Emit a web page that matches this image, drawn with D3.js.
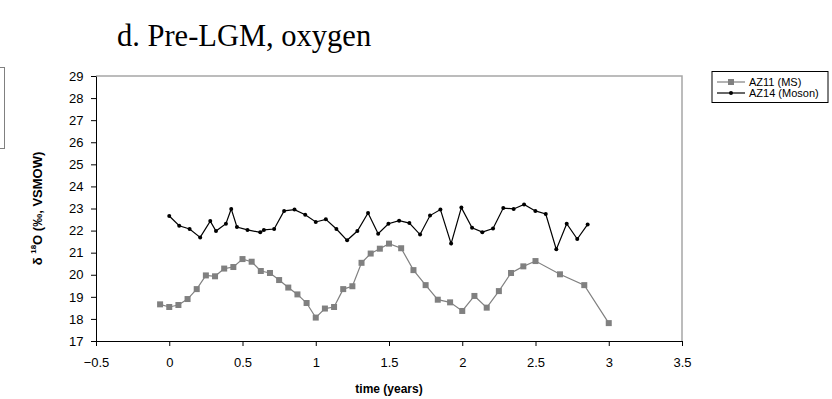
<!DOCTYPE html>
<html><head><meta charset="utf-8">
<script src="https://cdn.jsdelivr.net/npm/d3@7"></script>
<style>
html,body{margin:0;padding:0;background:#fff;}
svg{display:block;}
</style></head>
<body>
<svg id="chart" width="832" height="399"></svg>
<script>
// ---- data ----
const az11Time = [-0.0625,0,0.0625,0.125,0.1875,0.25,0.3125,0.375,0.4375,0.5,0.5625,0.625,0.6875,0.75,0.8125,0.875,0.9375,1.0,1.0625,1.125,1.1875,1.25,1.3125,1.375,1.4375,1.5,1.583,1.667,1.75,1.833,1.917,2.0,2.083,2.167,2.25,2.333,2.417,2.5,2.667,2.833,3.0];
const az11Value = [18.66,18.54,18.63,18.90,19.35,19.97,19.93,20.28,20.35,20.71,20.59,20.17,20.08,19.76,19.42,19.11,18.72,18.06,18.47,18.54,19.35,19.48,20.54,20.96,21.18,21.41,21.20,20.21,19.53,18.87,18.75,18.36,19.04,18.51,19.26,20.08,20.38,20.62,20.02,19.53,17.81];
const az14Time = [0,0.068,0.139,0.211,0.280,0.319,0.387,0.423,0.462,0.534,0.621,0.646,0.716,0.784,0.855,0.928,1.0,1.069,1.141,1.214,1.284,1.357,1.426,1.496,1.569,1.639,1.712,1.780,1.851,1.924,1.994,2.067,2.137,2.210,2.280,2.351,2.422,2.499,2.570,2.642,2.713,2.785,2.856];
const az14Value = [22.66,22.22,22.07,21.69,22.43,21.98,22.31,22.98,22.16,22.03,21.92,22.03,22.07,22.89,22.95,22.72,22.39,22.51,22.07,21.56,21.98,22.80,21.86,22.31,22.45,22.34,21.82,22.68,22.95,21.41,23.04,22.13,21.93,22.09,23.02,22.98,23.18,22.89,22.75,21.15,22.31,21.62,22.28];
const xTicks = [-0.5,0,0.5,1,1.5,2,2.5,3,3.5];
const yTicks = [17,18,19,20,21,22,23,24,25,26,27,28,29];
const seriesNames = ["AZ11 (MS)","AZ14 (Moson)"];
const titleText = "d. Pre-LGM, oxygen";
const xLabel = "time (years)";

// ---- layout ----
const svg = d3.select("#chart");
const L = 96, R = 682, T = 76, B = 341;
const x = d3.scaleLinear().domain([-0.5,3.5]).range([L,R]);
const y = d3.scaleLinear().domain([17,29]).range([B,T]);
const font = "Arial, 'Liberation Sans', sans-serif";

// partial box at far left (cut-off neighbour)
svg.append("rect").attr("x",-10).attr("y",67.5).attr("width",14.5).attr("height",81)
  .attr("fill","none").attr("stroke","#808080").attr("stroke-width",1);

// title
svg.append("text").attr("x",117).attr("y",46).attr("font-family","'Liberation Serif','Times New Roman',serif")
  .attr("font-size",30.5).attr("fill","#000").text(titleText);

// plot border top/right
svg.append("path").attr("d",`M${L},${T}H${R}V${B}`).attr("fill","none").attr("stroke","#a6a6a6").attr("stroke-width",1.5);

// axes
const xAxis = d3.axisBottom(x).tickValues(xTicks).tickSize(5).tickSizeOuter(0).tickFormat(d3.format("~g"));
const gx = svg.append("g").attr("transform",`translate(0,${B})`).call(xAxis);
gx.select(".domain").attr("stroke","#000");
gx.selectAll(".tick line").attr("stroke","#000");
gx.selectAll(".tick text").attr("font-family",font).attr("font-size",13).attr("fill","#000").attr("y",26).attr("dy",0);

const yAxis = d3.axisLeft(y).tickValues(yTicks).tickSize(5).tickSizeOuter(0).tickFormat(d3.format("d"));
const gy = svg.append("g").attr("transform",`translate(${L},0)`).call(yAxis);
gy.select(".domain").attr("stroke","#000");
gy.selectAll(".tick line").attr("stroke","#000");
gy.selectAll(".tick text").attr("font-family",font).attr("font-size",13).attr("fill","#000").attr("x",-12.5);

// axis labels
svg.append("text").attr("x",(L+R)/2).attr("y",393).attr("text-anchor","middle")
  .attr("font-family",font).attr("font-size",12).attr("font-weight","bold").text(xLabel);
const yl = svg.append("text").attr("transform",`translate(42,${(T+B)/2}) rotate(-90)`).attr("text-anchor","middle")
  .attr("font-family",font).attr("font-size",13).attr("font-weight","bold");
yl.append("tspan").text("δ ");
yl.append("tspan").attr("font-size",8).attr("dy",-6).text("18");
yl.append("tspan").attr("dy",6).text("O (‰, VSMOW)");

// series
const d11 = az11Time.map((t,i)=>({t, v:az11Value[i]}));
const d14 = az14Time.map((t,i)=>({t, v:az14Value[i]}));
const line = d3.line().x(d=>x(d.t)).y(d=>y(d.v));
svg.append("path").datum(d11).attr("d",line).attr("fill","none").attr("stroke","#808080").attr("stroke-width",1.2);
svg.selectAll("rect.m11").data(d11).enter().append("rect").attr("class","m11")
  .attr("x",d=>x(d.t)-3).attr("y",d=>y(d.v)-3).attr("width",6).attr("height",6).attr("fill","#808080");
svg.append("path").datum(d14).attr("d",line).attr("fill","none").attr("stroke","#000").attr("stroke-width",1.2);
svg.selectAll("circle.m14").data(d14).enter().append("circle").attr("class","m14")
  .attr("cx",d=>x(d.t)).attr("cy",d=>y(d.v)).attr("r",2).attr("fill","#000");

// legend
const lg = svg.append("g");
const lx = 712, ly = 71.5;
lg.append("rect").attr("x",lx).attr("y",ly).attr("width",116).attr("height",31)
  .attr("fill","#fff").attr("stroke","#000").attr("stroke-width",1);
const cols = ["#808080","#000"];
seriesNames.forEach((n,i)=>{
  const yy = ly + 10.5 + i*11;
  lg.append("line").attr("x1",lx+5).attr("x2",lx+33).attr("y1",yy).attr("y2",yy).attr("stroke",cols[i]).attr("stroke-width",1.2);
  if(i===0) lg.append("rect").attr("x",lx+19-3).attr("y",yy-3).attr("width",6).attr("height",6).attr("fill",cols[i]);
  else lg.append("circle").attr("cx",lx+19).attr("cy",yy).attr("r",2).attr("fill",cols[i]);
  lg.append("text").attr("x",lx+37).attr("y",yy+4).attr("font-family",font).attr("font-size",11).text(n);
});
</script>
</body></html>
